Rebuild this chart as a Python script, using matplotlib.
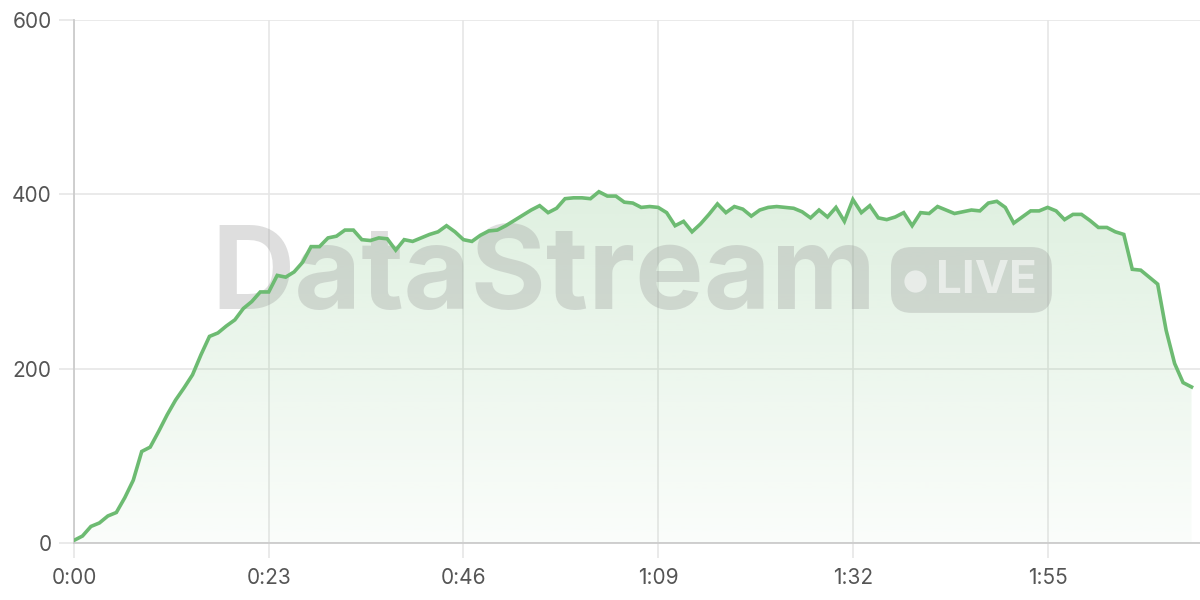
import matplotlib
matplotlib.use("Agg")
import matplotlib.pyplot as plt
import numpy as np
from matplotlib.patches import FancyBboxPatch

# one sample per second
values = [
    3, 8, 19, 23, 31, 35, 52, 72, 105, 110,
    128, 147, 164, 178, 193, 216, 237, 241, 249, 256,
    269, 277, 288, 288, 307, 305, 311, 322, 340, 340,
    350, 352, 359, 359, 348, 347, 350, 349, 336, 348,
    346, 350, 354, 357, 364, 357, 348, 346, 353, 358,
    359, 364, 370, 376, 382, 387, 379, 384, 395, 396,
    396, 395, 403, 398, 398, 391, 390, 385, 386, 385,
    379, 364, 369, 357, 366, 377, 389, 379, 386, 383,
    375, 382, 385, 386, 385, 384, 380, 373, 382, 374,
    385, 369, 394, 379, 387, 373, 371, 374, 379, 364,
    379, 378, 386, 382, 378, 380, 382, 381, 390, 392,
    385, 367, 374, 381, 381, 385, 381, 371, 377, 377,
    370, 362, 362, 357, 354, 314, 313, 305, 297, 244,
    206, 184, 179,
]
tick_seconds = [0, 23, 46, 69, 92, 115]
tick_labels = ["0:00", "0:23", "0:46", "1:09", "1:32", "1:55"]
y_ticks = [0, 200, 400, 600]

line_color = "#6dbb72"
grid_color = "#e6e6e6"
axis_color = "#cccccc"
text_color = "#555555"
mark_color = "#9a9a9a"

plt.rcParams["font.family"] = ["Inter", "DejaVu Sans"]

x = np.arange(len(values))
y = np.array(values, dtype=float)

fig = plt.figure(figsize=(12, 6), dpi=100)
ax = fig.add_axes([74 / 1200, 57 / 600, 1126 / 1200, 523 / 600])
ax.set_xlim(0, 133)
ax.set_ylim(0, 600)

# gradient fill under the line
poly = ax.fill_between(x, y, 0, color="none", lw=0)
grad = np.linspace(0.03, 0.22, 256).reshape(-1, 1)
rgba = np.zeros((256, 1, 4))
rgba[..., 0] = 0x6d / 255
rgba[..., 1] = 0xbb / 255
rgba[..., 2] = 0x72 / 255
rgba[..., 3] = grad
img = ax.imshow(rgba, extent=[0, x[-1], 0, y.max()], origin="lower",
                aspect="auto", zorder=1)
img.set_clip_path(poly.get_paths()[0], transform=ax.transData)

# watermark
ax.text(0.122, 0.505, "DataStream", transform=ax.transAxes, fontsize=83,
        fontweight="bold", color=mark_color, alpha=0.32, ha="left", va="center",
        zorder=2)
badge = FancyBboxPatch((96.5, 264), 19, 75.5,
                       boxstyle="round,pad=0,rounding_size=2.4", mutation_aspect=9.7,
                       fc=mark_color, ec="none", alpha=0.32, zorder=2)
ax.add_patch(badge)
ax.plot([99.3], [300.5], "o", ms=16, mfc="white", mec="none", alpha=0.55, zorder=2)
ax.text(101.8, 301, "LIVE", fontsize=33, fontweight="bold", color="white",
        alpha=0.55, ha="left", va="center", zorder=2)

ax.plot(x, y, color=line_color, lw=2.6, solid_joinstyle="miter", zorder=3)

ax.set_xticks(tick_seconds)
ax.set_xticklabels(tick_labels)
ax.set_yticks(y_ticks)
ax.grid(True, color=grid_color, lw=1.2, zorder=0)
ax.set_axisbelow(True)
ax.tick_params(axis="both", colors=grid_color, labelcolor=text_color,
               labelsize=15, length=11, width=1.2)
ax.tick_params(axis="y", pad=5)
ax.tick_params(axis="x", pad=7)

for side in ["top", "right"]:
    ax.spines[side].set_visible(False)
for side in ["left", "bottom"]:
    ax.spines[side].set_color(axis_color)
    ax.spines[side].set_linewidth(1.3)

fig.savefig("out.png", dpi=100)
